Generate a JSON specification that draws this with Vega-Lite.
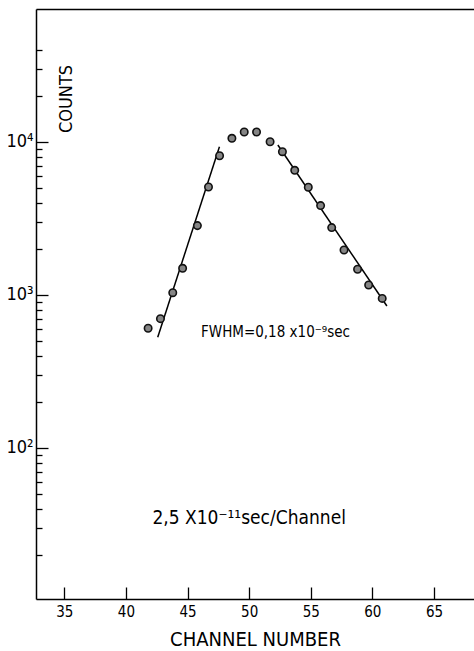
{
  "$schema": "https://vega.github.io/schema/vega-lite/v6.json",
  "width": 438,
  "height": 590,
  "autosize": {"type": "none"},
  "padding": {"left": 36, "top": 9, "right": 0, "bottom": 52},
  "background": "white",
  "config": {
    "view": {"stroke": null},
    "font": "Liberation Sans Narrow, DejaVu Sans Condensed, sans-serif",
    "axis": {"domainColor": "black", "tickColor": "black", "labelColor": "black", "titleColor": "black", "grid": false, "domainWidth": 1.5, "tickWidth": 1.3}
  },
  "datasets": {
    "points": [
      {"channel": 41.8, "counts": 606},
      {"channel": 42.8, "counts": 700},
      {"channel": 43.8, "counts": 1035},
      {"channel": 44.6, "counts": 1494},
      {"channel": 45.8, "counts": 2840},
      {"channel": 46.7, "counts": 5080},
      {"channel": 47.6, "counts": 8130},
      {"channel": 48.6, "counts": 10570},
      {"channel": 49.6, "counts": 11620},
      {"channel": 50.6, "counts": 11620},
      {"channel": 51.7, "counts": 10040},
      {"channel": 52.7, "counts": 8640},
      {"channel": 53.7, "counts": 6530},
      {"channel": 54.8, "counts": 5060},
      {"channel": 55.8, "counts": 3840},
      {"channel": 56.7, "counts": 2757},
      {"channel": 57.7, "counts": 1968},
      {"channel": 58.8, "counts": 1473},
      {"channel": 59.7, "counts": 1162},
      {"channel": 60.8, "counts": 950}
    ],
    "fits": [
      {"fit": "rise", "channel": 42.58, "counts": 530},
      {"fit": "rise", "channel": 47.59, "counts": 9320},
      {"fit": "fall", "channel": 52.33, "counts": 9560},
      {"fit": "fall", "channel": 61.18, "counts": 847}
    ]
  },
  "resolve": {"axis": {"x": "independent", "y": "independent"}},
  "layer": [
    {
      "data": {"name": "fits"},
      "mark": {"type": "line", "color": "black", "strokeWidth": 1.5},
      "encoding": {
        "x": {"field": "channel", "type": "quantitative", "scale": {"domain": [32.7, 68.25], "nice": false, "zero": false},
          "axis": {"orient": "top", "offset": -590, "values": [35, 40, 45, 50, 55, 60, 65], "tickSize": 12, "labels": false, "domain": false, "title": null}},
        "y": {"field": "counts", "type": "quantitative", "scale": {"type": "log", "domain": [10.3, 74000], "nice": false},
          "axis": {"orient": "right", "offset": -438, "values": [100, 1000, 10000], "tickSize": 12, "labels": false, "domain": false, "title": null}},
        "detail": {"field": "fit"}
      }
    },
    {
      "data": {"name": "points"},
      "mark": {"type": "circle", "size": 55, "fill": "#858585", "stroke": "#111111", "strokeWidth": 1.6, "opacity": 1},
      "encoding": {
        "x": {"field": "channel", "type": "quantitative",
          "axis": {"orient": "bottom", "values": [35, 40, 45, 50, 55, 60, 65], "ticks": false, "labelPadding": 5, "labelFontSize": 15, "title": "CHANNEL NUMBER", "titleFontSize": 20, "titleFontWeight": "normal", "titlePadding": 10}},
        "y": {"field": "counts", "type": "quantitative",
          "axis": {"orient": "left", "values": [100, 1000, 10000], "ticks": false, "labelFontSize": 18, "labelPadding": 3, "labelExpr": "datum.value == 10000 ? '10⁴' : datum.value == 1000 ? '10³' : '10²'", "title": null}}
      }
    },
    {
      "data": {"values": [{}]},
      "mark": {"type": "text", "text": "FWHM=0,18 x10⁻⁹sec", "fontSize": 15, "align": "center", "baseline": "middle", "color": "black"},
      "encoding": {
        "x": {"datum": 52.14, "type": "quantitative",
          "axis": {"orient": "top", "ticks": false, "labels": false, "domain": true, "title": null}},
        "y": {"datum": 573, "type": "quantitative",
          "axis": {"orient": "right", "offset": -438, "values": [20, 30, 40, 50, 60, 70, 80, 90, 200, 300, 400, 500, 600, 700, 800, 900, 2000, 3000, 4000, 5000, 6000, 7000, 8000, 9000, 20000, 30000, 40000], "tickSize": 6, "labels": false, "domain": false, "title": null}}
      }
    },
    {
      "data": {"values": [{}]},
      "mark": {"type": "text", "text": "2,5 X10⁻¹¹sec/Channel", "fontSize": 19, "align": "center", "baseline": "middle", "color": "black"},
      "encoding": {
        "x": {"datum": 50, "type": "quantitative", "axis": null},
        "y": {"datum": 34.9, "type": "quantitative", "axis": null}
      }
    },
    {
      "data": {"values": [{}]},
      "mark": {"type": "text", "text": "COUNTS", "fontSize": 18, "angle": 270, "align": "center", "baseline": "middle", "color": "black"},
      "encoding": {
        "x": {"datum": 35.25, "type": "quantitative", "axis": null},
        "y": {"datum": 19100, "type": "quantitative", "axis": null}
      }
    }
  ]
}
